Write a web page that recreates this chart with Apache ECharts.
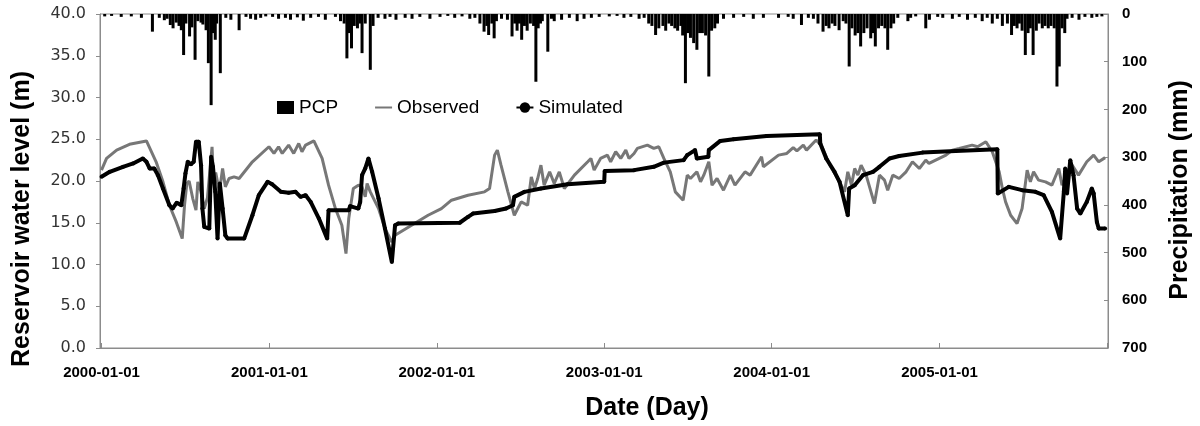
<!DOCTYPE html>
<html>
<head>
<meta charset="utf-8">
<title>Reservoir water level</title>
<script src="https://cdn.jsdelivr.net/npm/echarts@6/dist/echarts.min.js"></script>
<style>
  html, body { margin: 0; padding: 0; background: #fff; }
  #chart { width: 1200px; height: 426px; }
</style>
</head>
<body>
<div id="chart"></div>
<script>
// days counted from 2000-01-01
var obsDays = [0,11,33,61,98,119,134,148,163,176,181,186,191,199,206,210,217,224,231,241,
  244,249,257,264,270,278,289,300,329,365,376,386,394,408,419,430,437,445,463,481,
  495,510,524,533,539,549,560,568,575,579,586,604,618,633,640,676,712,741,763,799,
  835,846,857,863,871,886,900,915,929,937,944,951,958,965,977,987,998,1009,1031,1060,
  1067,1074,1088,1103,1110,1121,1132,1143,1150,1161,1168,1190,1204,1215,1226,1240,1251,1268,1277,1284,
  1298,1306,1313,1324,1331,1342,1356,1371,1381,1403,1414,1439,1443,1476,1494,1508,1516,1530,1537,1558,
  1569,1588,1609,1620,1627,1635,1642,1649,1656,1667,1685,1696,1707,1714,1725,1739,1754,1768,1783,1797,
  1804,1841,1855,1870,1898,1910,1928,1942,1957,1964,1971,1982,1996,2007,2018,2025,2032,2043,2058,2072,
  2087,2094,2101,2116,2130,2148,2163,2174,2188]
var obsLevel = [21.3,22.7,23.7,24.4,24.8,22.3,19.9,17.1,15.1,13.1,17.1,19.7,20.0,17.9,16.5,19.9,18.7,16.7,18.0,24.1,
  20.3,21.0,18.7,21.5,19.3,20.3,20.5,20.3,22.3,24.1,23.3,24.1,23.3,24.3,23.3,24.5,23.5,24.3,24.8,22.7,
  19.5,16.7,14.7,11.3,15.5,19.1,19.5,19.3,18.1,19.7,18.7,16.7,14.3,12.7,13.5,14.7,15.9,16.7,17.7,18.3,
  18.7,19.1,23.1,23.7,21.9,18.7,15.9,17.5,17.1,20.5,19.1,20.3,21.9,19.5,21.1,19.7,21.1,19.1,20.7,22.3,
  22.7,21.3,22.7,23.1,22.3,23.5,22.7,23.7,22.7,23.3,23.9,24.3,23.9,24.1,22.7,21.1,18.7,17.7,20.7,20.3,
  21.1,19.9,20.7,22.3,19.5,20.3,18.9,20.7,19.5,21.1,20.7,22.9,21.7,23.1,23.3,24.0,23.6,24.3,23.7,24.9,
  24.3,21.9,19.9,18.7,21.1,19.5,21.5,20.7,21.9,20.7,17.3,20.7,20.1,18.9,20.7,20.3,21.1,22.3,21.5,22.5,
  22.1,23.1,23.7,23.9,24.3,24.1,24.7,23.5,21.1,19.1,17.5,15.9,14.9,16.7,21.3,19.9,21.1,20.1,19.9,19.5,
  21.5,19.5,20.3,21.9,20.7,22.3,23.1,22.3,22.8]

var simDays = [0,18,47,69,90,98,105,115,123,134,148,155,164,174,179,183,188,195,201,206,
  212,217,220,224,235,239,243,248,253,258,264,270,275,311,329,343,362,372,391,408,
  423,434,445,456,474,492,495,539,542,560,564,568,575,582,590,604,618,633,640,647,
  781,799,810,857,882,897,900,922,958,1016,1096,1097,1161,1204,1226,1269,1277,1294,1298,1323,
  1324,1349,1378,1450,1566,1567,1580,1598,1609,1627,1630,1642,1660,1682,1696,1718,1739,1790,1862,1953,
  1954,1978,2007,2036,2054,2072,2090,2098,2101,2105,2112,2119,2127,2134,2148,2159,2163,2170,2174,2188]
var simLevel = [20.5,21.1,21.7,22.1,22.7,22.3,21.5,21.5,20.7,19.1,17.1,16.7,17.4,17.1,19.1,20.9,22.3,22.0,22.3,24.7,
  24.7,21.9,16.7,14.5,14.3,22.9,21.7,18.7,13.1,19.7,16.7,13.5,13.1,13.1,15.9,18.3,19.9,19.6,18.7,18.6,
  18.7,18.1,18.3,17.5,15.5,13.1,16.5,16.5,17.0,16.7,17.5,20.7,21.5,22.7,21.1,17.9,14.3,10.3,14.7,14.9,
  15.0,15.7,16.1,16.4,16.7,17.1,18.1,18.7,19.1,19.6,19.9,21.2,21.3,21.7,22.2,22.5,23.1,23.7,22.7,22.9,
  23.7,24.8,25.0,25.4,25.6,24.5,22.7,21.1,19.9,15.9,19.1,19.5,20.7,21.1,21.7,22.7,23.0,23.4,23.6,23.8,
  18.5,19.3,18.9,18.7,18.3,16.3,13.1,18.7,21.5,18.5,22.5,20.7,16.7,16.1,17.5,19.1,18.5,15.1,14.3,14.3]

var pcpDays = [7,22,43,65,87,111,126,137,143,150,156,163,169,174,179,184,192,197,204,210,
  217,221,228,233,239,243,248,251,259,271,282,300,315,325,336,347,358,
  373,386,401,412,427,440,456,473,488,510,521,529,535,539,545,551,558,564,568,575,
  586,592,603,618,629,642,662,677,694,716,
  738,755,770,786,803,814,825,834,840,844,851,856,861,872,885,895,901,906,911,916,
  922,928,935,942,947,952,957,961,973,981,987,1003,1020,1037,1052,1068,1085,
  1107,1124,1139,1154,1172,1183,1193,1200,1208,1215,1224,1230,1237,1243,1250,1256,1263,1267,1273,1278,
  1284,1291,1298,1304,1310,1317,1324,1330,1337,1343,1356,1378,1400,1421,1443,
  1476,1497,1508,1526,1541,1552,1562,1573,1580,1586,1593,1599,1608,1617,1623,1630,1636,1643,1649,1655,
  1662,1669,1677,1682,1687,1694,1701,1708,1714,1721,1727,1736,1758,1764,1775,1797,1805,1823,
  1834,1855,1870,1888,1905,1920,1931,1942,1953,1964,1975,1984,1990,1996,2001,2007,2014,2020,2025,2031,
  2038,2044,2051,2057,2064,2070,2077,2083,2088,2094,2100,2105,2116,2131,2144,2159,2170,2181]
var pcpMm = [5,4,6,5,8,37,8,13,10,23,30,18,25,34,86,20,47,28,96,15,
  18,22,34,103,191,40,54,20,124,8,12,34,6,10,12,8,5,
  6,10,8,12,7,14,8,6,12,6,15,20,93,40,72,25,30,20,82,20,
  117,25,8,10,6,12,8,10,6,10,
  6,4,8,5,10,8,20,37,25,44,20,51,15,10,12,47,20,35,20,54,
  25,35,20,25,142,30,20,15,79,10,15,12,8,15,10,8,6,
  5,4,8,6,10,8,20,25,44,30,25,35,20,25,30,35,25,45,145,40,
  50,61,75,40,40,45,131,35,30,20,10,8,6,10,8,
  8,6,10,23,8,10,20,37,25,30,20,25,34,15,20,110,30,45,40,68,
  40,30,51,40,68,30,25,30,75,30,20,8,15,8,5,30,12,6,
  8,10,6,12,8,15,8,20,10,25,20,44,25,30,20,35,86,40,30,86,
  35,20,30,25,30,25,30,152,110,30,40,10,8,12,6,8,6,5]

var levelTicks = { min: 0, max: 40, step: 5 }
var pcpTicks = { min: 0, max: 700, step: 100 }

function dayToTime(d) {
  return new Date(2000, 0, 1 + d).getTime()
}
function pairs(days, vals) {
  return days.map(function (d, i) { return [dayToTime(d), vals[i]] })
}

var chart = echarts.init(document.getElementById('chart'), null, { renderer: 'canvas' })
var DAY = 86400000
var fontFam = '"Liberation Sans", Arial, sans-serif'
var xMin = dayToTime(0)
var xMax = new Date(2005, 11, 31).getTime()

chart.setOption({
  animation: false,
  backgroundColor: '#fff',
  grid: {
    left: 100, right: 92, top: 14, bottom: 78,
    show: true, borderColor: '#8c8c8c', borderWidth: 1, backgroundColor: 'transparent'
  },
  legend: {
    left: 272, top: 93,
    itemWidth: 17, itemHeight: 13, itemGap: 36,
    textStyle: { fontFamily: fontFam, fontSize: 19, color: '#000' },
    data: [
      { name: 'PCP', icon: 'rect' },
      { name: 'Observed', itemStyle: { opacity: 0 } },
      { name: 'Simulated' }
    ]
  },
  xAxis: {
    type: 'time',
    min: xMin,
    max: xMax,
    minInterval: 365 * DAY,
    maxInterval: 366 * DAY,
    splitLine: { show: false },
    axisLine: { lineStyle: { color: '#8c8c8c', width: 1 } },
    axisTick: { inside: true, length: 5, lineStyle: { color: '#8c8c8c' } },
    axisLabel: {
      formatter: function (v) {
        if (v > xMax) return ''
        return echarts.time.format(v, '{yyyy}-{MM}-{dd}', false)
      },
      fontFamily: fontFam, fontWeight: 'bold', fontSize: 15, color: '#000', margin: 17,
      hideOverlap: false
    }
  },
  yAxis: [{
    type: 'value',
    min: levelTicks.min, max: levelTicks.max, interval: levelTicks.step,
    splitLine: { show: false },
    axisLine: { show: true, lineStyle: { color: '#8c8c8c' } },
    axisTick: { show: true, length: 4, lineStyle: { color: '#8c8c8c' } },
    axisLabel: {
      formatter: function (v) { return v.toFixed(1) },
      fontFamily: '"DejaVu Sans", sans-serif', fontSize: 16, color: '#333', margin: 14
    }
  }, {
    type: 'value',
    inverse: true,
    min: pcpTicks.min, max: pcpTicks.max, interval: pcpTicks.step,
    splitLine: { show: false },
    axisLine: { show: true, lineStyle: { color: '#8c8c8c' } },
    axisTick: { show: true, inside: true, length: 4, lineStyle: { color: '#8c8c8c' } },
    axisLabel: {
      fontFamily: fontFam, fontWeight: 'bold', fontSize: 15, color: '#000', margin: 14
    }
  }],
  graphic: [{
    type: 'text', x: 22, y: 219, rotation: Math.PI / 2,
    style: {
      text: 'Reservoir water level (m)', font: 'bold 25px ' + fontFam,
      fill: '#000', align: 'center', verticalAlign: 'middle'
    }
  }, {
    type: 'text', x: 1180, y: 190, rotation: Math.PI / 2,
    style: {
      text: 'Precipitation (mm)', font: 'bold 25px ' + fontFam,
      fill: '#000', align: 'center', verticalAlign: 'middle'
    }
  }, {
    type: 'text', x: 647, y: 408,
    style: {
      text: 'Date (Day)', font: 'bold 25px ' + fontFam,
      fill: '#000', align: 'center', verticalAlign: 'middle'
    }
  }],
  series: [{
    name: 'PCP',
    type: 'bar',
    yAxisIndex: 1,
    barWidth: 3,
    itemStyle: { color: '#000' },
    data: pairs(pcpDays, pcpMm)
  }, {
    name: 'Observed',
    type: 'line',
    symbol: 'none',
    lineStyle: { color: '#777', width: 3 },
    itemStyle: { color: '#777' },
    data: pairs(obsDays, obsLevel)
  }, {
    name: 'Simulated',
    type: 'line',
    symbol: 'circle',
    symbolSize: 4,
    showAllSymbol: true,
    lineStyle: { color: '#000', width: 4 },
    itemStyle: { color: '#000' },
    data: pairs(simDays, simLevel)
  }]
})
</script>
</body>
</html>
